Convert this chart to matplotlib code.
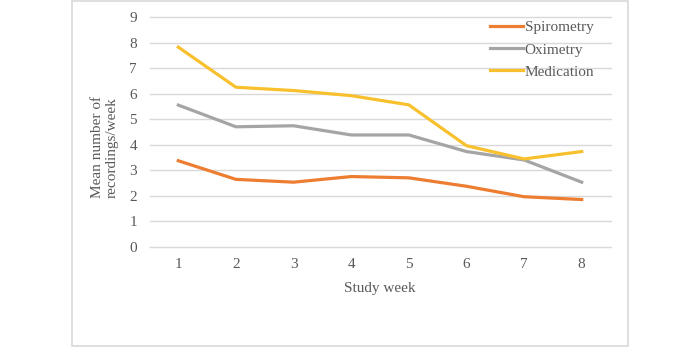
import numpy as np
import matplotlib.pyplot as plt
from matplotlib.patches import Rectangle

weeks = [1, 2, 3, 4, 5, 6, 7, 8]
spirometry = [3.38, 2.65, 2.54, 2.76, 2.71, 2.38, 1.97, 1.86]
oximetry = [5.56, 4.71, 4.75, 4.39, 4.39, 3.74, 3.41, 2.54]
medication = [7.83, 6.26, 6.13, 5.93, 5.57, 3.97, 3.45, 3.74]

plt.rcParams['font.family'] = ['Liberation Serif', 'DejaVu Serif']
txt = '#595959'

fig = plt.figure(figsize=(7, 3.49), dpi=100)
W, H = 700, 349

# 外枠
fig.patches.append(Rectangle((72 / W, 1 - 346 / H), (628 - 72) / W, (346 - 1) / H,
                             transform=fig.transFigure, fill=False,
                             edgecolor='#D9D9D9', linewidth=1.2))

ax = fig.add_axes([149.5 / W, 1 - 247 / H, 461 / W, 229.7 / H])

ax.plot(weeks, spirometry, color='#ED7D31', lw=2.3, label='Spirometry')
ax.plot(weeks, oximetry, color='#A5A5A5', lw=2.3, label='Oximetry')
ax.plot(weeks, medication, color='#F9C02E', lw=2.3, label='Medication')

ax.set_xlim(0.5, 8.5)
ax.set_ylim(0, 9)
ax.set_yticks(range(10))
ax.set_xticks(weeks)
ax.grid(axis='y', color='#D9D9D9', lw=1)
for gl in ax.get_ygridlines():
    gl.set_clip_on(False)
ax.set_axisbelow(True)
for s in ax.spines.values():
    s.set_visible(False)
ax.tick_params(length=0, labelsize=11, labelcolor=txt)
ax.tick_params(axis='y', pad=9)
ax.tick_params(axis='x', pad=8)

ax.set_xlabel('Study week', fontsize=11, color=txt, labelpad=8)
ax.set_ylabel('Mean number of\nrecordings/week', fontsize=11, color=txt,
              linespacing=1.15)
ax.yaxis.set_label_coords(-0.068, 0.435)

ax.legend(loc='upper right', bbox_to_anchor=(0.995, 1.045), frameon=False,
          fontsize=11, labelcolor=txt, handlelength=2.2, handletextpad=0.1,
          labelspacing=0.55)

fig.savefig('out.png', dpi=100)
